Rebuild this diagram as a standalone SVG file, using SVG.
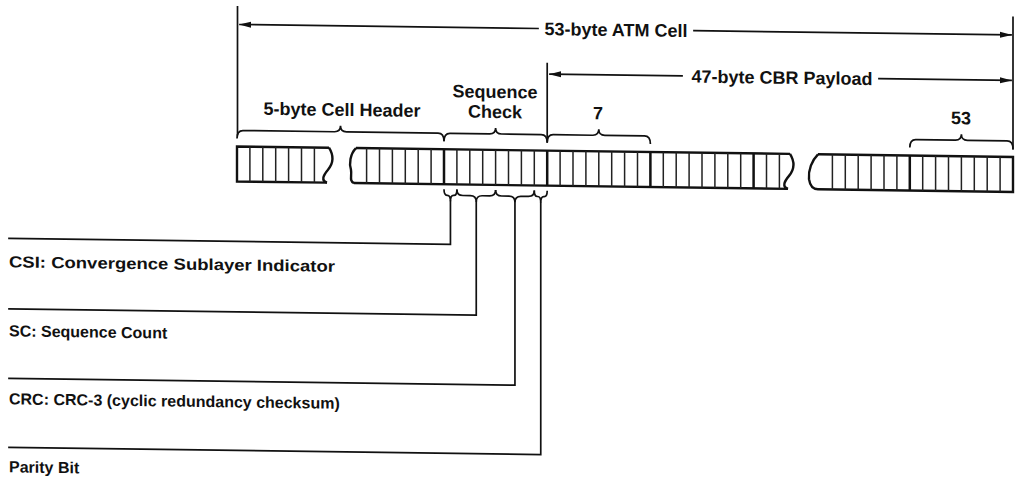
<svg xmlns="http://www.w3.org/2000/svg" width="1021" height="483" viewBox="0 0 1021 483">
<defs>
<marker id="ah" viewBox="0 0 12 8" refX="11" refY="4" markerWidth="12" markerHeight="8" markerUnits="userSpaceOnUse" orient="auto-start-reverse">
<path d="M0,1 L12,4 L0,7 Z" fill="#111"/>
</marker>
<style>
.ln{fill:none;stroke:#111;stroke-width:1.7;stroke-linecap:square}
.br{fill:none;stroke:#111;stroke-width:1.7}
.box{fill:none;stroke:#111;stroke-width:2.4}
.thin{fill:none;stroke:#222;stroke-width:1.5}
.thick{fill:none;stroke:#111;stroke-width:2.5}
.t{font-family:"Liberation Sans",Arial,sans-serif;font-weight:bold;font-size:16px;fill:#111}
.big{font-size:18px}
.m{text-anchor:middle}
</style>
</defs>
<rect width="1021" height="483" fill="#fff"/>
<g transform="matrix(1,0.0135,0,1,0,-6.75)">
<g id="connectors">
<path class="ln" d="M237.5,10.5 V138"/>
<path class="ln" d="M1013,10.5 V142"/>
<path class="ln" d="M547.2,63 V140"/>
<path class="ln" d="M240,28 H538" marker-start="url(#ah)"/>
<path class="ln" d="M694,28 H1011" marker-end="url(#ah)"/>
<path class="ln" d="M550,73.5 H682" marker-start="url(#ah)"/>
<path class="ln" d="M879,73.5 H1011" marker-end="url(#ah)"/>
<path class="ln" d="M450.45,202 V245 H9"/>
<path class="ln" d="M476.25,202 V315.5 H9"/>
<path class="ln" d="M514.95,202 V385 H9"/>
<path class="ln" d="M540.75,202 V454 H9"/>
</g>
<g id="cell-label">
<text class="t big m" x="616" y="34.5">53-byte ATM Cell</text>
</g>
<g id="payload-label">
<text class="t big m" x="782" y="80">47-byte CBR Payload</text>
</g>
<g id="header-brace">
<path class="br" d="M237,142 Q237,134 243,134 L334.5,134 Q340.5,134 340.5,128 Q340.5,134 346.5,134 L438,134 Q444,134 444,142"/>
<text class="t big m" x="342" y="118">5-byte Cell Header</text>
</g>
<g id="sequence-brace">
<path class="br" d="M444,142 Q444,134 450,134 L489.6,134 Q495.6,134 495.6,128 Q495.6,134 501.6,134 L541.2,134 Q547.2,134 547.2,142"/>
<text class="t big m" x="495" y="98">Sequence</text>
<text class="t big m" x="495" y="118">Check</text>
</g>
<g id="byte7-brace">
<path class="br" d="M547.2,142 Q547.2,134 553.2,134 L592.8,134 Q598.8,134 598.8,128 Q598.8,134 604.8,134 L644.4,134 Q650.4,134 650.4,142"/>
<text class="t big m" x="598" y="118">7</text>
</g>
<g id="byte53-brace">
<path class="br" d="M909.8,142 Q909.8,134 915.8,134 L955.4,134 Q961.4,134 961.4,128 Q961.4,134 967.4,134 L1007,134 Q1013,134 1013,142"/>
<text class="t big m" x="961" y="118">53</text>
</g>
<g id="strip-seg1">
<path class="box" d="M329,150 H237 V185 H327"/>
<path class="box" d="M329,150 C334,158 333,166 328,172 S321,183 327,185"/>
<path class="thin" d="M249.9,150V185M262.8,150V185M275.7,150V185M288.6,150V185M301.5,150V185M314.4,150V185"/>
</g>
<g id="strip-seg2">
<path class="box" d="M356,150 H790 M354,185 H788"/>
<path class="box" d="M356,150 C350,156 349,166 351,172 C352,178 349,183 354,185"/>
<path class="box" d="M790,150 C795,158 794,166 789,172 S782,183 788,185"/>
<path class="thin" d="M366.6,150V185M379.5,150V185M392.4,150V185M405.3,150V185M418.2,150V185M431.1,150V185M456.9,150V185M469.8,150V185M482.7,150V185M495.6,150V185M508.5,150V185M521.4,150V185M534.3,150V185M560.1,150V185M573,150V185M585.9,150V185M598.8,150V185M611.7,150V185M624.6,150V185M637.5,150V185M663.3,150V185M676.2,150V185M689.1,150V185M702,150V185M714.9,150V185M727.8,150V185M740.7,150V185M766.5,150V185M779.4,150V185"/>
<path class="thick" d="M444,150V185M547.2,150V185M650.4,150V185M753.6,150V185"/>
</g>
<g id="strip-seg3">
<path class="box" d="M818,150 H1013 V185 H818"/>
<path class="box" d="M818,150 C812,156 808,166 809,175 C810,182 813,185 818,185"/>
<path class="thin" d="M832.4,150V185M845.3,150V185M858.2,150V185M871.1,150V185M884,150V185M896.9,150V185M922.7,150V185M935.6,150V185M948.5,150V185M961.4,150V185M974.3,150V185M987.2,150V185M1000.1,150V185"/>
<path class="thick" d="M909.8,150V185"/>
</g>
<g id="sub-braces">
<path class="br" d="M444,190 Q444,196 447,196 L447.45,196 Q450.45,196 450.45,202 Q450.45,196 453.45,196 L453.9,196 Q456.9,196 456.9,190"/>
<path class="br" d="M456.9,190 Q456.9,196 462.9,196 L470.25,196 Q476.25,196 476.25,202 Q476.25,196 482.25,196 L489.6,196 Q495.6,196 495.6,190"/>
<path class="br" d="M495.6,190 Q495.6,196 501.6,196 L508.95,196 Q514.95,196 514.95,202 Q514.95,196 520.95,196 L528.3,196 Q534.3,196 534.3,190"/>
<path class="br" d="M534.3,190 Q534.3,196 537.3,196 L537.75,196 Q540.75,196 540.75,202 Q540.75,196 543.75,196 L544.2,196 Q547.2,196 547.2,190"/>
</g>
<g id="csi-label"><text class="t" x="9" y="274" textLength="326" lengthAdjust="spacingAndGlyphs">CSI: Convergence Sublayer Indicator</text></g>
<g id="sc-label"><text class="t" x="9" y="343">SC: Sequence Count</text></g>
<g id="crc-label"><text class="t" x="9" y="411">CRC: CRC-3 (cyclic redundancy checksum)</text></g>
<g id="parity-label"><text class="t" x="9" y="479">Parity Bit</text></g>
</g>
</svg>
